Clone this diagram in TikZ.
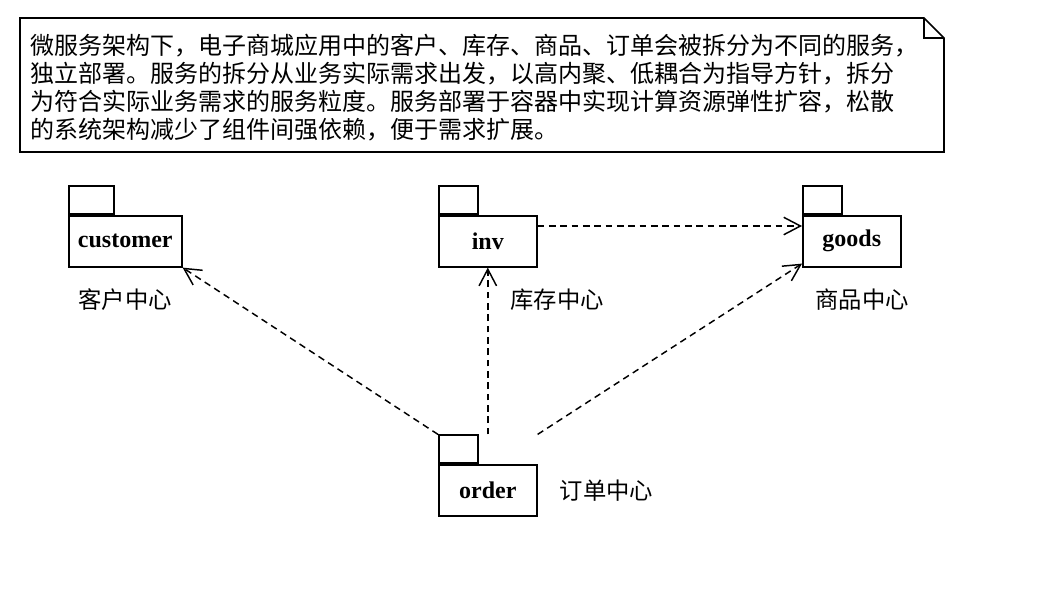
\documentclass[tikz,border=0pt]{standalone}
\usepackage{fontspec}
\setmainfont{Liberation Serif}
\newfontfamily\cjk{Noto Sans CJK SC}
\usetikzlibrary{arrows.meta,positioning,calc}
\tikzset{
  pkg/.style={draw, line width=1.2pt, fill=white, inner sep=0pt,
    minimum width=98*0.75pt, minimum height=51*0.75pt,
    font=\fontsize{18}{20}\selectfont\bfseries},
  pkgtab/.style={draw, line width=1.2pt, fill=white, inner sep=0pt,
    minimum width=39*0.75pt, minimum height=28*0.75pt, anchor=south west},
  tag/.style={font=\cjk\fontsize{17.5}{20}\selectfont, inner sep=0pt},
  notebox/.style={line width=1.2pt},
  notetext/.style={font=\cjk\fontsize{18}{21}\selectfont, align=left,
    inner sep=0pt, anchor=north west},
  dep/.style={-{Straight Barb[length=4.4mm,width=4.6mm,line width=1.1pt]},
    line width=1.1pt, dash pattern=on 5pt off 3.5pt}
}
\begin{document}
\begin{tikzpicture}[x=0.75pt, y=-0.75pt]
  \useasboundingbox (0,0) rectangle (1046,594);

  % note
  \draw[notebox] (20,18) -- (924,18) -- (944,38) -- (944,152) -- (20,152) -- cycle;
  \draw[notebox] (924,18) -- (924,38) -- (944,38);
  \node[notetext] (txt) at (30,34) {微服务架构下，电子商城应用中的客户、库存、商品、订单会被拆分为不同的服务，\\
    独立部署。服务的拆分从业务实际需求出发，以高内聚、低耦合为指导方针，拆分\\
    为符合实际业务需求的服务粒度。服务部署于容器中实现计算资源弹性扩容，松散\\
    的系统架构减少了组件间强依赖，便于需求扩展。};

  % packages
  \node[pkg, minimum width=113*0.75pt, anchor=north west] (cust) at (68,215) {customer};
  \node[pkgtab, minimum width=45*0.75pt] (custtab) at (cust.north west) {};
  \node[pkg, anchor=north west] (inv) at (438,215) {inv};
  \node[pkgtab] (invtab) at (inv.north west) {};
  \node[pkg, anchor=north west] (goods) at (802,215) {goods};
  \node[pkgtab] (goodstab) at (goods.north west) {};
  \node[pkg, anchor=north west] (ord) at (438,464) {order};
  \node[pkgtab] (ordtab) at (ord.north west) {};

  % labels
  \node[tag] (custlbl) at (125,300) {客户中心};
  \node[tag] (invlbl) at (557,300) {库存中心};
  \node[tag] (goodslbl) at (862,300) {商品中心};
  \node[tag, right=22*0.75pt of ord] (ordlbl) {订单中心};

  % dependencies
  \draw[dep] (ordtab.north west) -- (cust.south east);
  \draw[dep] (ord.north |- ordtab.north) -- (inv.south);
  \draw[dep] (ord.north east |- ordtab.north) -- ($(goods.south west)+(0,-4)$);
  \draw[dep] ($(inv.north east)+(0,11)$) -- ($(goods.north west)+(0,11)$);
\end{tikzpicture}
\end{document}
